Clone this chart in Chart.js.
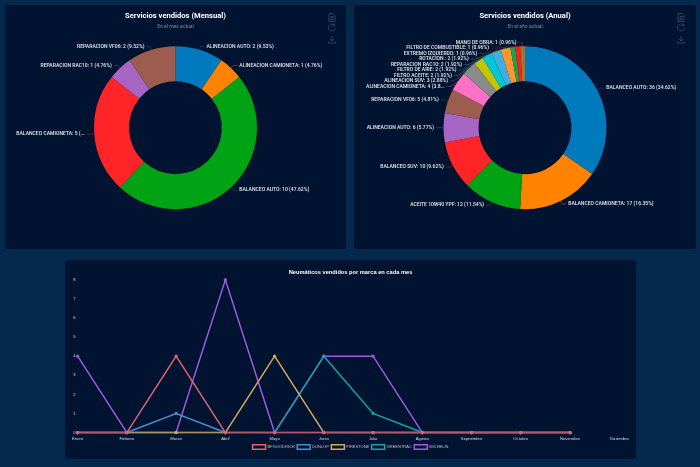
<!DOCTYPE html>
<html>
<head>
<meta charset="utf-8">
<title>Servicios y neumáticos</title>
<script src="https://cdn.jsdelivr.net/npm/chart.js@4/dist/chart.umd.min.js"></script>
<style>
html, body { margin: 0; padding: 0; width: 700px; height: 467px; overflow: hidden; background: #04294c; }
.panel { position: absolute; background: #001331; border-radius: 2px; }
.panel canvas { position: absolute; left: 0; top: 0; }
.tools { position: absolute; left: 321px; top: 7px; }
</style>
</head>
<body>
<div class="panel" style="left:5px;top:5px;width:341px;height:244px">
  <canvas id="mensual-chart" width="341" height="244"></canvas>
  <svg class="tools" width="12" height="36" fill="none" stroke="#3e4e68" stroke-width="0.8">
    <path d="M3 1.5h4l2 2v6h-6zM4.5 4.5h3M4.5 6h3M4.5 7.500h3"/>
    <path d="M9.500 16a3.500 3.500 0 1 1-1-3M8.500 11.500v2h-2"/>
    <path d="M6 24v5M4 27l2 2 2-2M2.500 29.500v1.500h7v-1.500"/>
  </svg>
</div>
<div class="panel" style="left:354px;top:5px;width:342px;height:244px">
  <canvas id="anual-chart" width="342" height="244"></canvas>
  <svg class="tools" width="12" height="36" fill="none" stroke="#3e4e68" stroke-width="0.8">
    <path d="M3 1.5h4l2 2v6h-6zM4.5 4.500h3M4.5 6h3M4.5 7.500h3"/>
    <path d="M9.500 16a3.500 3.500 0 1 1-1-3M8.500 11.500v2h-2"/>
    <path d="M6 24v5M4 27l2 2 2-2M2.500 29.500v1.500h7v-1.500"/>
  </svg>
</div>
<div class="panel" style="left:65px;top:260px;width:571px;height:199px">
  <canvas id="marcas-chart" width="571" height="199"></canvas>
</div>

<script>
var mensualLabels = ["ALINEACION AUTO", "ALINEACION CAMIONETA", "BALANCEO AUTO", "BALANCEO CAMIONETA", "REPARACION RAC10", "REPARACION VF06"];
var mensualValues = [2, 1, 10, 5, 1, 2];
var mensualPct = ["9.53", "4.76", "47.62", "23.81", "4.76", "9.52"];

var anualLabels = ["BALANCEO AUTO", "BALANCEO CAMIONETA", "ACEITE 10W40 YPF", "BALANCEO SUV", "ALINEACION AUTO", "REPARACION VF06", "ALINEACION CAMIONETA", "ALINEACION SUV", "FILTRO ACEITE", "FILTRO DE AIRE", "REPARACION RAC10", "ROTACION ", "EXTREMO IZQUIERDO", "FILTRO DE COMBUSTIBLE", "MANO DE OBRA"];
var anualValues = [36, 17, 12, 10, 6, 5, 4, 3, 2, 2, 2, 2, 1, 1, 1];
var anualPct = ["34.62", "16.35", "11.54", "9.62", "5.77", "4.81", "3.85", "2.88", "1.92", "1.92", "1.92", "1.92", "0.96", "0.96", "0.96"];

var sliceColors = ["#0079bd", "#ff8200", "#00a314", "#ff2427", "#a866c4", "#9c5c4e", "#ff70c6", "#8a8a8a", "#c4c400", "#00c6d8", "#3cb0e0", "#ff9430", "#12a84c", "#ff1c1c", "#a87428"];

var meses = ["Enero", "Febrero", "Marzo", "Abril", "Mayo", "Junio", "Julio", "Agosto", "Septiembre", "Octubre", "Noviembre", "Diciembre"];
var bfgoodrich = [0, 0, 4, 0, 0, 0, 0, 0, 0, 0, 0];
var dunlop = [0, 0, 1, 0, 0, 0, 0, 0, 0, 0, 0];
var firestone = [0, 0, 0, 0, 4, 0, 0, 0, 0, 0, 0];
var greentrac = [0, 0, 0, 0, 0, 4, 1, 0, 0, 0, 0];
var michelin = [4, 0, 0, 8, 0, 4, 4, 0, 0, 0, 0];

var PIE_FONT = 'Roboto, sans-serif';
var LINE_FONT = '"Liberation Sans", sans-serif';

// outside labels with leader lines, the left and right columns get pushed down when they collide
var pieLabels = {
    id: 'pieLabels',
    afterDatasetsDraw: function (chart, args, opts) {
        var ctx = chart.ctx;
        var arcs = chart.getDatasetMeta(0).data;
        var names = chart.data.labels;
        var values = chart.data.datasets[0].data;
        var items = [];
        arcs.forEach(function (arc, i) {
            var p = arc.getProps(['x', 'y', 'startAngle', 'endAngle', 'outerRadius'], true);
            var a = (p.startAngle + p.endAngle) / 2;
            items.push({
                i: i, a: a, cx: p.x, cy: p.y, r: p.outerRadius,
                right: Math.cos(a) >= 0,
                y: p.y + Math.sin(a) * (p.outerRadius + 3.5)
            });
        });
        [true, false].forEach(function (side) {
            var col = items.filter(function (it) { return it.right === side; });
            col.sort(function (a, b) { return a.y - b.y; });
            var prev = -100;
            col.forEach(function (it) {
                it.y = Math.max(it.y, prev + 5.45);
                prev = it.y;
            });
        });
        ctx.save();
        ctx.font = '500 5.05px ' + PIE_FONT;
        ctx.textBaseline = 'middle';
        ctx.lineWidth = 0.7;
        items.forEach(function (it) {
            var R = it.r + 3.5;
            var dy = it.y - it.cy;
            var half = Math.sqrt(Math.max(0, R * R - dy * dy));
            var sign = it.right ? 1 : -1;
            var ex = it.cx + sign * half;

            ctx.strokeStyle = sliceColors[it.i] + '88';
            ctx.beginPath();
            ctx.moveTo(it.cx + Math.cos(it.a) * it.r, it.cy + Math.sin(it.a) * it.r);
            ctx.lineTo(ex, it.y);
            ctx.lineTo(ex + sign * 4, it.y);
            ctx.stroke();

            var text = names[it.i] + ': ' + values[it.i] + ' (' + opts.pct[it.i] + '%)';
            var tx = ex + sign * 6;
            if (!it.right) {
                var room = tx - 11;
                if (ctx.measureText(text).width > room) {
                    while (ctx.measureText(text + '...').width > room) text = text.slice(0, -1);
                    text = text + '...';
                }
            }
            ctx.textAlign = it.right ? 'left' : 'right';
            ctx.fillStyle = '#e6eaf0';
            ctx.fillText(text, tx, it.y);
        });
        ctx.restore();
    }
};

function getPieConfig(title, subtitle, labels, values, pct) {
    return {
        type: 'doughnut',
        plugins: [pieLabels],
        data: {
            labels: labels,
            datasets: [{ data: values, backgroundColor: sliceColors, borderWidth: 0 }]
        },
        options: {
            responsive: false,
            animation: false,
            radius: 81.5,
            cutout: '57%',
            layout: { padding: { top: 0, bottom: 26.700 } },
            plugins: {
                legend: { display: false },
                tooltip: { enabled: false },
                title: {
                    display: true, text: title, color: '#ffffff',
                    font: { family: PIE_FONT, size: 7.6, weight: 'bold' },
                    padding: { top: 7, bottom: 2 }
                },
                subtitle: {
                    display: true, text: subtitle, color: '#7d8a9c',
                    font: { family: PIE_FONT, size: 5 },
                    padding: { top: 1, bottom: 3 }
                },
                pieLabels: { pct: pct }
            }
        }
    };
}

// runs along the zero line come out duller than the rest of each line in the picture
function serie(label, values, color, zeroColor) {
    return {
        label: label, data: values, borderColor: color, backgroundColor: '#001331',
        pointBackgroundColor: color, pointBorderColor: color,
        borderWidth: 1.5, pointRadius: 0.9, tension: 0, clip: false,
        segment: {
            borderColor: function (ctx) {
                return ctx.p0.parsed.y === 0 && ctx.p1.parsed.y === 0 ? zeroColor : undefined;
            }
        }
    };
}

new Chart(document.getElementById('mensual-chart').getContext('2d'),
    getPieConfig('Servicios vendidos (Mensual)', 'En el mes actual', mensualLabels, mensualValues, mensualPct));
new Chart(document.getElementById('anual-chart').getContext('2d'),
    getPieConfig('Servicios vendidos (Anual)', 'En el año actual', anualLabels, anualValues, anualPct));

new Chart(document.getElementById('marcas-chart').getContext('2d'), {
    type: 'line',
    data: {
        labels: meses,
        datasets: [
            serie('BFGOODRICH', bfgoodrich, '#e2646f', '#b8566a'),
            serie('DUNLOP', dunlop, '#3f8fd8', '#2f6ca4'),
            serie('FIRESTONE', firestone, '#d8a75c', '#a8925a'),
            serie('GREENTRAC', greentrac, '#12a5a8', '#0f8082'),
            serie('MICHELIN', michelin, '#a05adf', '#7844a8')
        ]
    },
    options: {
        responsive: false,
        animation: false,
        layout: { padding: { left: 6.3, right: 6.3, top: 0, bottom: -0.3 } },
        scales: {
            x: {
                grid: { display: false, drawTicks: false }, border: { display: false },
                offset: false,
                // extra room on the right only, so title and legend stay centred on the panel
                afterFit: function (scale) { scale.height -= 2.7; scale.paddingRight = 16.7; },
                ticks: { color: '#d8dde5', font: { family: LINE_FONT, size: 4.2 }, padding: 3.7, maxRotation: 0, autoSkip: false }
            },
            y: {
                min: 0, max: 8,
                grid: { display: false, drawTicks: false }, border: { display: false },
                ticks: { stepSize: 1, color: '#d8dde5', font: { family: LINE_FONT, size: 4.2 }, padding: 2 }
            }
        },
        plugins: {
            tooltip: { enabled: false },
            title: {
                display: true, text: 'Neumáticos vendidos por marca en cada mes', color: '#ffffff',
                font: { family: LINE_FONT, size: 5.7, weight: 'bold' },
                padding: { top: 9, bottom: 4 }
            },
            legend: {
                position: 'bottom',
                labels: { boxWidth: 13, boxHeight: 4.5, padding: 2.5, color: '#b8c0cc', font: { family: LINE_FONT, size: 4 } }
            }
        }
    }
});
</script>
</body>
</html>
